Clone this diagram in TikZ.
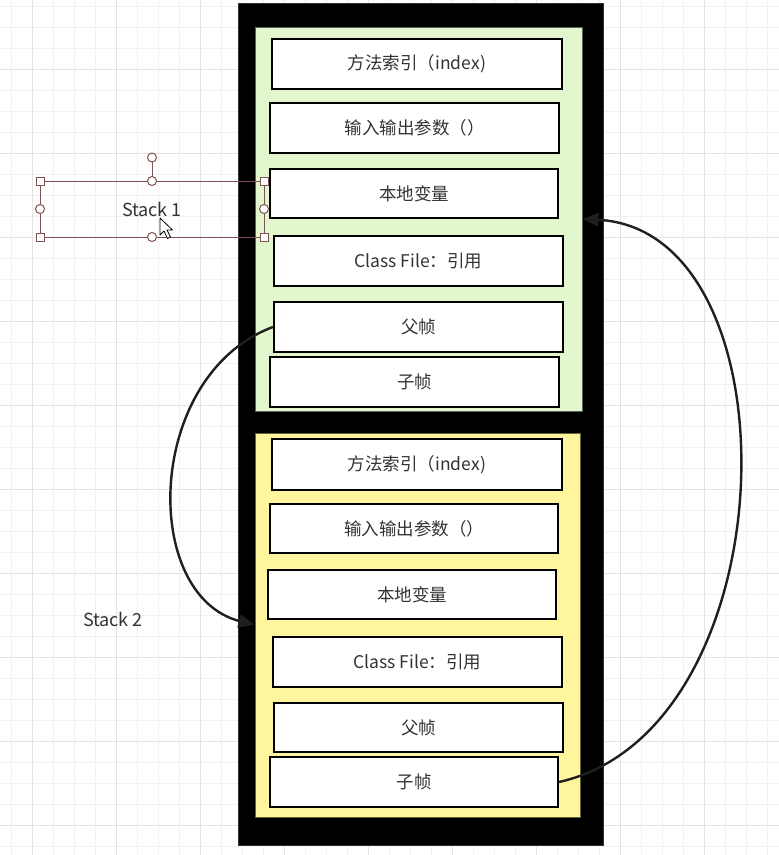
\documentclass[tikz,border=0pt]{standalone}
\usepackage{fontspec}
\setmainfont{Noto Sans CJK SC}
\usetikzlibrary{arrows.meta}
\definecolor{gridminor}{HTML}{F1F1F1}
\definecolor{gridmajor}{HTML}{E3E3E3}
\definecolor{greenfill}{HTML}{E3F7CE}
\definecolor{yellowfill}{HTML}{FFF59C}
\definecolor{txt}{HTML}{333333}
\definecolor{selcol}{HTML}{7E5252}
\tikzset{
  frame/.style={draw=black, line width=2.2pt, fill=white, inner sep=0pt,
    text=txt, font=\fontsize{17.5}{20}\selectfont},
  fw/.style={minimum width=#1},
  fh/.style={minimum height=#1},
  container/.style={draw=#1, line width=1pt, inner sep=0pt},
  conn/.style={draw=black!88, line width=2.4pt,
    -{Triangle[length=16pt,width=13pt]}},
  lbl/.style={text=txt, font=\fontsize{18}{21}\selectfont, inner sep=0pt},
  sel/.style={draw=selcol, line width=1pt},
  sqh/.style={draw=selcol, fill=white, line width=1pt, minimum size=8pt, inner sep=0pt, rectangle},
  cih/.style={draw=selcol, fill=white, line width=1pt, minimum size=9pt, inner sep=0pt, circle},
}
\begin{document}
\begin{tikzpicture}[x=1pt,y=-1pt]
\useasboundingbox (0,0) rectangle (779,855);
\fill[white] (0,0) rectangle (779,855);
% grid
\foreach \k in {0,...,36} {\draw[gridminor, line width=1pt] ({11+21*\k},0) -- ({11+21*\k},855);}
\foreach \k in {0,...,40} {\draw[gridminor, line width=1pt] (0,{6+21*\k}) -- (779,{6+21*\k});}
\foreach \k in {1,5,...,33} {\draw[gridmajor, line width=1pt] ({11+21*\k},0) -- ({11+21*\k},855);}
\foreach \k in {3,7,...,39} {\draw[gridmajor, line width=1pt] (0,{6+21*\k}) -- (779,{6+21*\k});}

% outer black frame
\node[fill=black, draw=black!80, line width=1pt, inner sep=0pt, minimum width=365pt, minimum height=842pt] (outer) at (420.5,424) {};
% containers
\node[container=black!60!greenfill, fill=greenfill, minimum width=327pt, minimum height=384pt] (green) at (418.5,219) {};
\node[container=black!60!yellowfill, fill=yellowfill, minimum width=325pt, minimum height=384pt] (yellow) at (417.5,625) {};

% green stack frames
\node[frame, fw=290pt, fh=50pt] (g1) at (417,64) {方法索引（index)};
\node[frame, fw=289pt, fh=50pt] (g2) at (414.5,128) {输入输出参数（）};
\node[frame, fw=288pt, fh=49pt] (g3) at (414,193.5) {本地变量};
\node[frame, fw=289pt, fh=50pt] (g4) at (418.5,261) {Class File：引用};
\node[frame, fw=289pt, fh=50pt] (g5) at (418.5,327) {父帧};
\node[frame, fw=289pt, fh=50pt] (g6) at (414.5,382) {子帧};

% yellow stack frames
\node[frame, fw=290pt, fh=51pt] (y1) at (417,464.5) {方法索引（index)};
\node[frame, fw=288pt, fh=49pt] (y2) at (414,528.5) {输入输出参数（）};
\node[frame, fw=288pt, fh=49pt] (y3) at (412,594.5) {本地变量};
\node[frame, fw=289pt, fh=50pt] (y4) at (417.5,662) {Class File：引用};
\node[frame, fw=289pt, fh=49pt] (y5) at (418.5,727.5) {父帧};
\node[frame, fw=288pt, fh=50pt] (y6) at (414,782) {子帧};

% connectors
\draw[conn] (g5.west) .. controls (145,375) and (140,595) .. (yellow.west);
\draw[conn] (y6.east) .. controls (790,730) and (800,230) .. (green.east);

% labels
\node[lbl] (s2) at (113,619) {Stack 2};
\node[lbl] (s1) at (152,209) {Stack 1};

% selection overlay of Stack 1
\draw[sel] (40,181) rectangle (264,237);
\draw[sel] (152,181) -- (152,158);
\node[cih] (rot) at (152,157.5) {};
\node[sqh] (h1) at (40,181) {};
\node[sqh] (h2) at (264,181) {};
\node[sqh] (h3) at (40,237) {};
\node[sqh] (h4) at (264,237) {};
\node[cih] (h5) at (152,181) {};
\node[cih] (h6) at (152,237) {};
\node[cih] (h7) at (40,209) {};
\node[cih] (h8) at (264,209) {};
% mouse pointer
\draw[fill=white, draw=black, line width=0.8pt, line join=round]
  (160,218) -- (160,235) -- (164,231) -- (167.5,238.5) -- (170.5,237) -- (167,230) -- (172.5,230) -- cycle;
\end{tikzpicture}
\end{document}
